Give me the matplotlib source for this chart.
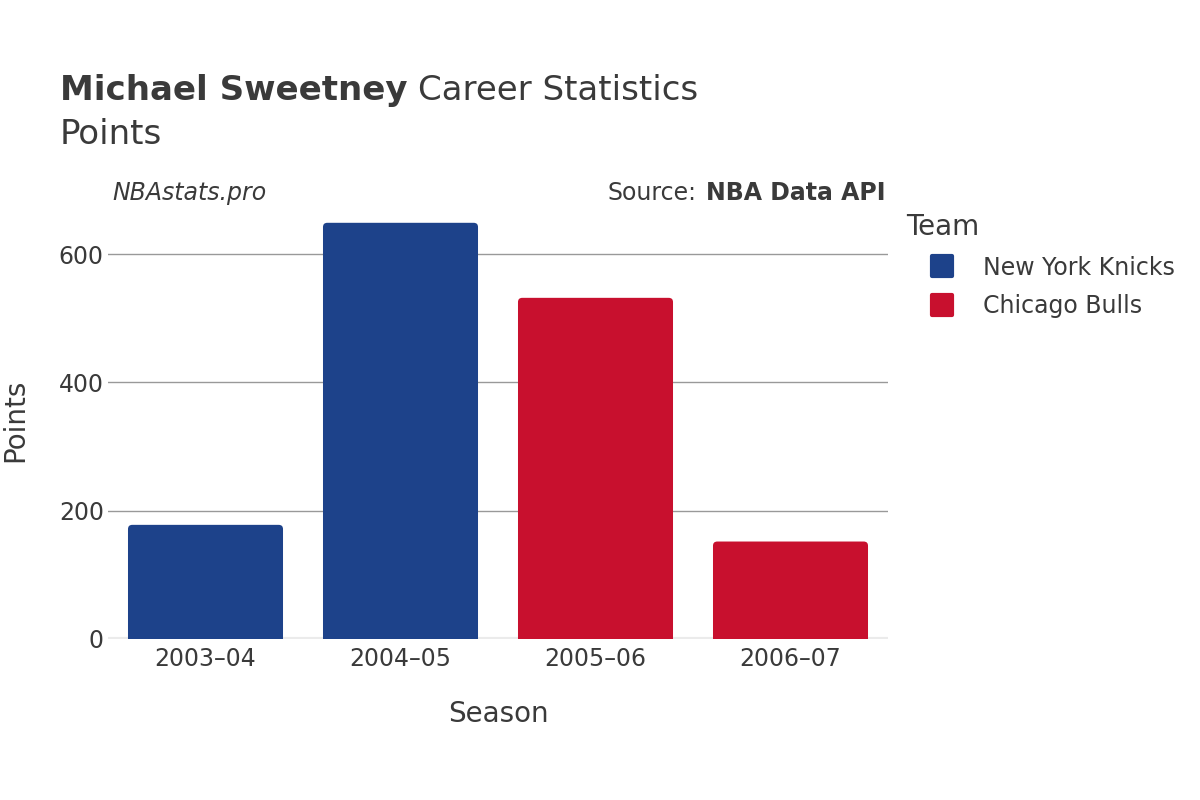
import matplotlib.pyplot as plt
from matplotlib.patches import FancyBboxPatch
from matplotlib.lines import Line2D
from matplotlib.markers import MarkerStyle

plt.rcParams['font.family'] = ['DejaVu Sans']

seasons = ['2003–04', '2004–05', '2005–06', '2006–07']
points = [178, 649, 532, 152]
teams = ['New York Knicks', 'New York Knicks', 'Chicago Bulls', 'Chicago Bulls']
team_names = ['New York Knicks', 'Chicago Bulls']
team_colors = {'New York Knicks': '#1D428A', 'Chicago Bulls': '#C8102E'}
yticks = [0, 200, 400, 600]

txt = '#3a3a3a'

fig = plt.figure(figsize=(12, 8), dpi=100)
ax = fig.add_axes([0.09, 0.20125, 0.65, 0.5475])

x = list(range(len(seasons)))
bars = ax.bar(x, points, width=0.795, color=[team_colors[t] for t in teams])
ax.set_xlim(-0.5, 3.5)
ax.set_ylim(0, 683)

# swap the plain bars for rounded ones (bottom clipped by the axes)
for b in bars:
    b.set_visible(False)
    p = FancyBboxPatch((b.get_x(), -20), b.get_width(), b.get_height() + 20,
                       boxstyle='round,pad=0,rounding_size=0.022',
                       mutation_aspect=300, facecolor=b.get_facecolor(),
                       edgecolor='none', zorder=3, clip_on=True)
    ax.add_patch(p)

for yv in yticks[1:]:
    ax.axhline(yv, color='#999999', linewidth=1, zorder=1)
ax.axhline(0, color='#ebebeb', linewidth=3, zorder=2)

for s in ax.spines.values():
    s.set_visible(False)
ax.set_yticks(yticks)
ax.set_xticks(x)
ax.set_xticklabels(seasons)
ax.tick_params(axis='both', length=0, labelsize=17, colors=txt, pad=6)
ax.tick_params(axis='y', pad=3)
ax.set_xlabel('Season', fontsize=20, color=txt, labelpad=21)
ax.set_ylabel('Points', fontsize=20, color=txt, labelpad=21)

t1 = fig.text(0.05, 0.875, 'Michael Sweetney', fontsize=24.5, fontweight='bold',
              color=txt, va='baseline')
fig.canvas.draw()
x_end = t1.get_window_extent().x1 / fig.bbox.width
fig.text(x_end + 0.009, 0.875, 'Career Statistics', fontsize=24.5, color=txt, va='baseline')
fig.text(0.05, 0.82, 'Points', fontsize=24.5, color=txt, va='baseline')

fig.text(0.094, 0.75, 'NBAstats.pro', fontsize=17, style='italic', color=txt, va='baseline')
t = fig.text(0.7375, 0.75, 'NBA Data API', fontsize=17, fontweight='bold', color=txt,
             va='baseline', ha='right')
fig.canvas.draw()
bb = t.get_window_extent()
fig.text(bb.x0 / fig.bbox.width - 0.0075, 0.75, 'Source:', fontsize=17, color=txt,
         va='baseline', ha='right')

handles = [Line2D([], [], linestyle='none',
                  marker=MarkerStyle('s', joinstyle='round'), markersize=14,
                  markerfacecolor=team_colors[n], markeredgecolor=team_colors[n],
                  markeredgewidth=3) for n in team_names]
leg = fig.legend(handles, team_names, title='Team', loc='upper left',
                 bbox_to_anchor=(0.747, 0.745), frameon=False, fontsize=17,
                 title_fontsize=20, labelspacing=0.6, handlelength=3.05,
                 handletextpad=0.2, borderaxespad=0, alignment='left')
for tx in leg.get_texts():
    tx.set_color(txt)
leg.get_title().set_color(txt)

fig.savefig('out.png', dpi=100)
